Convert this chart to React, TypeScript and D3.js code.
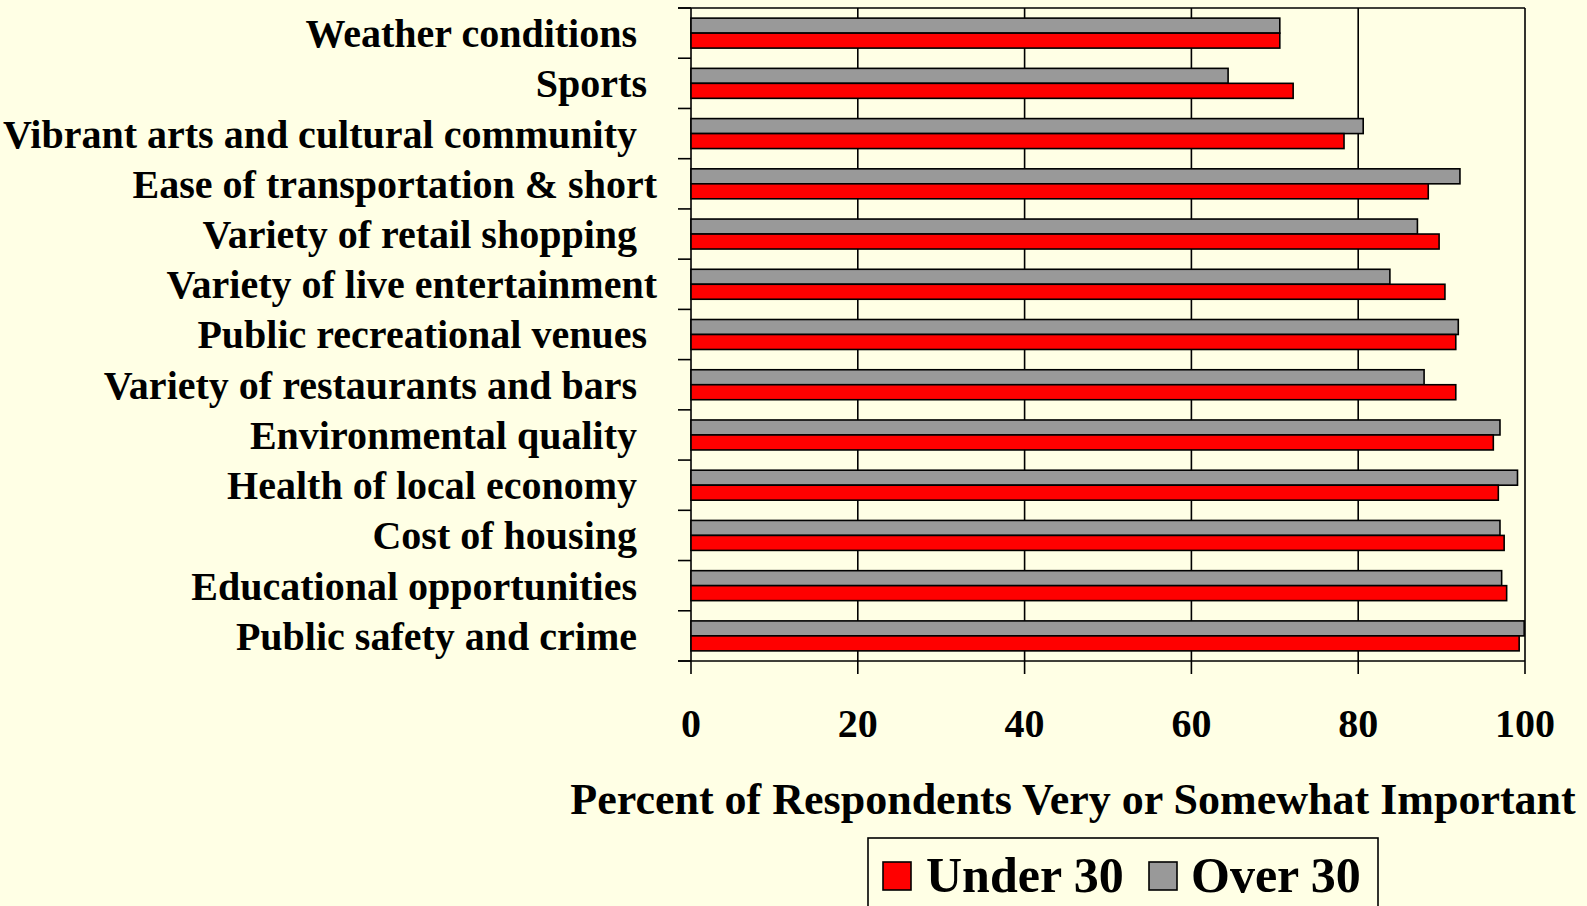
import React from "react";
import * as d3 from "d3";

// categories top to bottom (trailing spaces kept as in the original labels)
const categories = [
  "Weather conditions  ",
  "Sports ",
  "Vibrant arts and cultural community  ",
  "Ease of transportation & short",
  "Variety of retail shopping  ",
  "Variety of live entertainment",
  "Public recreational venues ",
  "Variety of restaurants and bars  ",
  "Environmental quality  ",
  "Health of local economy  ",
  "Cost of housing  ",
  "Educational opportunities  ",
  "Public safety and crime  ",
];
const under30 = [70.6, 72.2, 78.3, 88.4, 89.7, 90.4, 91.7, 91.7, 96.2, 96.8, 97.5, 97.8, 99.3];
const over30 = [70.6, 64.4, 80.6, 92.2, 87.1, 83.8, 92.0, 87.9, 97.0, 99.1, 97.0, 97.2, 99.9];
const seriesNames = ["Over 30", "Under 30"];
const xTicks = [0, 20, 40, 60, 80, 100];
const axisTitle = "Percent of Respondents Very or Somewhat Important";

const W = 1587;
const H = 906;
const bg = "#FFFFE5";
const font = "'Liberation Serif', 'Times New Roman', serif";

export default function App() {
  const left = 691;
  const right = 1525;
  const top = 8;
  const bottom = 661;

  const x = d3.scaleLinear().domain([0, 100]).range([left, right]);
  const y = d3.scaleBand<string>().domain(categories).range([top, bottom]).padding(0);
  const inner = d3
    .scaleBand<string>()
    .domain(seriesNames)
    .range([0, y.step()])
    .paddingInner(0)
    .paddingOuter(0.676);
  const color = d3.scaleOrdinal<string, string>().domain(seriesNames).range(["#999999", "#FF0000"]);

  // boundaries between categories, for the small ticks on the left axis
  const bounds = d3.range(categories.length + 1).map((i) => top + i * y.step());

  return (
    <svg width={W} height={H} style={{ position: "absolute", left: 0, top: 0, background: bg }}>
      <rect x={0} y={0} width={W} height={H} fill={bg} />

      {/* grid lines and frame */}
      {xTicks.map((t) => (
        <line key={"g" + t} x1={x(t)} x2={x(t)} y1={top} y2={bottom + 13} stroke="#000" strokeWidth={1.6} />
      ))}
      <line x1={left - 13} x2={right} y1={top} y2={top} stroke="#000" strokeWidth={1.6} />
      <line x1={left - 13} x2={right} y1={bottom} y2={bottom} stroke="#000" strokeWidth={1.6} />
      {bounds.map((b, i) => (
        <line key={"b" + i} x1={left - 13} x2={left} y1={b} y2={b} stroke="#000" strokeWidth={1.6} />
      ))}

      {/* bars */}
      {categories.map((c, i) => (
        <g key={c} transform={`translate(0,${y(c)})`}>
          {seriesNames.map((s) => {
            const v = s === "Over 30" ? over30[i] : under30[i];
            return (
              <rect
                key={s}
                x={x(0)}
                y={inner(s)}
                width={x(v) - x(0)}
                height={inner.bandwidth()}
                fill={color(s)}
                stroke="#000"
                strokeWidth={1.6}
              />
            );
          })}
          <text
            x={657}
            y={y.bandwidth() / 2 + 14}
            textAnchor="end"
            fontFamily={font}
            fontWeight="bold"
            fontSize={40}
            style={{ whiteSpace: "pre" }}
          >
            {c}
          </text>
        </g>
      ))}

      {/* x tick labels */}
      {xTicks.map((t) => (
        <text key={"t" + t} x={x(t)} y={737} textAnchor="middle" fontFamily={font} fontWeight="bold" fontSize={40}>
          {t}
        </text>
      ))}

      <text x={1073} y={814} textAnchor="middle" fontFamily={font} fontWeight="bold" fontSize={44}>
        {axisTitle}
      </text>

      {/* legend */}
      <rect x={868} y={838} width={510} height={100} fill={bg} stroke="#000" strokeWidth={1.6} />
      <rect x={883} y={862} width={28} height={28} fill={color("Under 30")} stroke="#000" strokeWidth={1.6} />
      <text x={926} y={892} fontFamily={font} fontWeight="bold" fontSize={50}>
        Under 30
      </text>
      <rect x={1149} y={862} width={28} height={28} fill={color("Over 30")} stroke="#000" strokeWidth={1.6} />
      <text x={1191} y={892} fontFamily={font} fontWeight="bold" fontSize={50}>
        Over 30
      </text>
    </svg>
  );
}
